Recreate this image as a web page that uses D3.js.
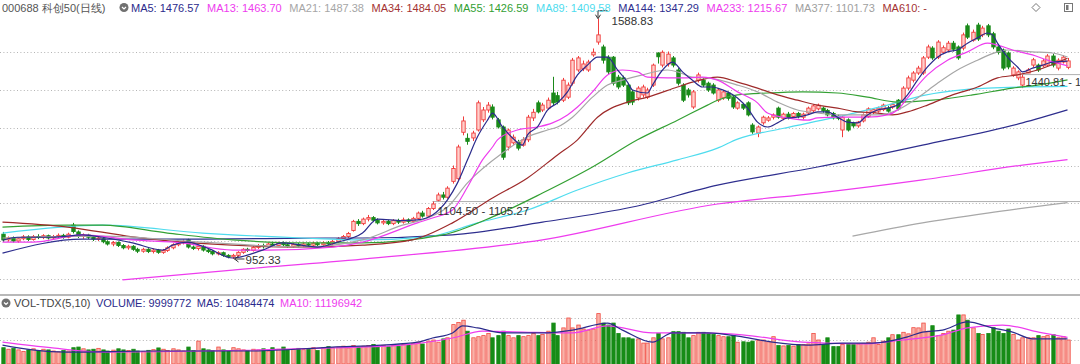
<!DOCTYPE html>
<html>
<head>
<meta charset="utf-8">
<script src="https://cdn.jsdelivr.net/npm/d3@7"></script>
<style>
body{margin:0;background:#fff;}
svg{display:block;font-family:"Liberation Sans",Arial,sans-serif;}
</style>
</head>
<body>
<svg id="chart" width="1080" height="364"></svg>
<script>
// daily candles, oldest first
var opens = [1018,1003,1008,1000,1006,1011,1004,1012,1009,1014,
1008,1012,1015,1010,1042,1024,1012,1016,1010,1005,
1006,998,992,996,988,982,986,978,973,978,
972,976,970,975,982,990,995,1003,984,980,
986,976,972,966,969,962,958,962,970,978,
975,983,988,985,992,988,994,990,986,991,
987,992,989,994,990,995,992,999,1006,1012,
1028,1052,1046,1058,1062,1055,1048,1052,1046,1054,
1050,1056,1052,1060,1074,1066,1086,1108,1122,1116,
1158,1165,1288,1272,1273,1294,1321,1347,1355,1321,
1302,1249,1260,1262,1254,1268,1326,1366,1347,1352,
1392,1385,1373,1381,1418,1453,1456,1453,1493,1527,
1514,1487,1487,1434,1432,1413,1395,1379,1387,1381,
1413,1498,1466,1469,1485,1453,1413,1400,1355,1426,
1426,1418,1413,1373,1379,1392,1381,1352,1362,1366,
1307,1286,1313,1320,1328,1352,1325,1336,1330,1338,
1328,1339,1345,1350,1352,1346,1338,1331,1294,1321,
1312,1305,1318,1330,1340,1344,1348,1352,1355,1373,
1368,1405,1426,1445,1445,1487,1511,1487,1500,1506,
1524,1514,1511,1570,1532,1572,1546,1570,1549,1514,
1506,1498,1440,1432,1413,1445,1466,1466,1464,1466,
1490,1458,1474,1460]
var closes = [1003,1008,1000,1006,1011,1004,1012,1009,1014,1008,
1012,1015,1010,1018,1025,1012,1016,1010,1005,1008,
998,992,996,988,982,986,978,973,978,972,
976,970,975,982,990,995,999,984,980,986,
976,972,966,969,962,958,962,970,978,975,
983,988,985,992,988,994,990,986,991,987,
992,989,994,990,995,992,999,1006,1012,1020,
1052,1046,1058,1062,1055,1048,1052,1046,1054,1050,
1056,1052,1060,1074,1066,1086,1098,1122,1116,1140,
1192,1249,1318,1264,1286,1366,1347,1360,1328,1302,
1222,1294,1275,1246,1268,1328,1341,1342,1360,1373,
1366,1368,1426,1413,1479,1485,1469,1474,1500,1546,
1479,1448,1418,1408,1413,1366,1368,1405,1408,1400,
1466,1488,1500,1495,1466,1418,1373,1387,1395,1440,
1413,1400,1392,1400,1395,1378,1355,1366,1352,1334,
1289,1302,1328,1326,1334,1328,1336,1328,1338,1330,
1336,1352,1358,1360,1345,1334,1326,1325,1328,1294,
1305,1315,1334,1350,1348,1352,1360,1344,1362,1350,
1405,1432,1445,1458,1485,1514,1485,1527,1512,1524,
1508,1485,1546,1540,1553,1535,1564,1546,1514,1500,
1458,1461,1458,1448,1434,1453,1480,1453,1477,1490,
1466,1479,1487,1477]
var highs = [1024,1012,1012,1010,1016,1015,1016,1018,1018,1017,
1016,1020,1019,1022,1048,1028,1020,1019,1014,1013,
1010,1002,1000,999,992,990,989,982,982,981,
980,979,979,986,994,999,1004,1006,988,990,
989,980,975,973,972,965,966,973,981,982,
986,992,993,996,996,998,999,994,995,995,
996,996,998,998,999,1000,1003,1010,1016,1024,
1056,1058,1062,1069,1066,1060,1057,1056,1058,1059,
1062,1060,1064,1078,1080,1090,1104.5,1128,1130,1145,
1200,1255,1330,1285,1292,1372,1355,1368,1362,1326,
1306,1298,1282,1268,1275,1334,1350,1372,1366,1380,
1435,1395,1432,1420,1485,1490,1478,1480,1510,1588.83,
1520,1492,1490,1440,1438,1418,1400,1410,1414,1406,
1470,1500,1505,1502,1490,1458,1418,1405,1400,1446,
1432,1422,1418,1405,1400,1396,1385,1370,1366,1370,
1312,1306,1332,1331,1338,1356,1340,1342,1342,1342,
1340,1356,1362,1364,1356,1350,1342,1335,1332,1325,
1316,1318,1338,1354,1352,1356,1364,1358,1366,1376,
1410,1438,1450,1464,1490,1520,1516,1532,1518,1530,
1530,1518,1552,1576,1560,1578,1570,1575,1554,1518,
1510,1502,1463,1452,1440.81,1458,1485,1470,1482,1495,
1496,1484,1492,1485]
var lows = [998,998,996,995,1002,1000,1001,1005,1005,1004,
1004,1008,1006,1007,1020,1008,1006,1005,1000,1000,
994,988,986,984,978,977,974,968,969,968,
967,966,966,971,978,986,991,980,976,975,
972,968,962,962,958,954,952.33,958,966,971,
972,979,980,981,984,984,986,982,982,983,
983,985,985,986,986,988,988,995,1002,1008,
1025,1040,1042,1052,1050,1044,1043,1042,1042,1045,
1046,1047,1048,1056,1062,1062,1082,1105.27,1110,1112,
1152,1160,1280,1255,1265,1290,1315,1340,1322,1298,
1215,1240,1255,1240,1250,1262,1318,1338,1342,1348,
1360,1362,1368,1376,1412,1448,1450,1448,1488,1520,
1470,1442,1412,1402,1408,1360,1360,1372,1380,1376,
1408,1470,1460,1462,1460,1412,1368,1380,1350,1420,
1408,1395,1388,1368,1374,1372,1350,1348,1347,1330,
1284,1275,1308,1316,1322,1324,1320,1322,1326,1325,
1322,1335,1340,1346,1340,1330,1322,1320,1275,1290,
1300,1300,1314,1326,1336,1340,1344,1340,1350,1346,
1364,1400,1420,1440,1440,1482,1480,1482,1495,1500,
1502,1480,1505,1535,1528,1530,1540,1540,1508,1494,
1452,1455,1435,1426,1405,1444.6,1460,1448,1460,1462,
1460,1452,1470,1455]
// volume, millions of shares
var volumes = [6.5,5.8,6.2,5.5,4.8,5.5,6,5.2,5.8,5.5,
5,4.6,5.2,5,6.5,6.8,6,5.5,5.8,6.2,
5.5,5,5.4,6,5.5,5.2,5.8,5,4.8,5.3,
5.6,6.4,5.8,5.2,6,5.5,5,6.8,5.2,9.5,
6,5.5,5.2,6.8,5.5,5,6.5,6,5.5,5.2,
5.8,5.5,6,5,6.5,5.8,6.8,5.6,5.8,6.2,
5.6,6,6.5,5.2,6.4,7,6.5,6.8,7.2,6.4,
7.5,6.8,7.2,7.5,8,6.8,7.6,7,7.5,7.2,
8,7.8,8.5,9,8.2,9.5,10,9,10.5,11,
17,18,19,14,11,11.5,12,13,11,12,
14,12,11,12,11.5,12,13,12,12.5,14,
17.7,12,15.5,20,15.5,16.8,15,14.5,15,22,
17.7,16.8,17.7,13,11,11,10.5,10.5,8.6,8.6,
11,13,10.5,11,13.8,13.8,13.5,11,12,13.5,
13.5,13,12.5,12,11.5,11.5,12,9,9.2,9,
9.5,9.8,10,9.2,11.5,7.5,7.3,7.5,7.2,8,
8,8.2,13,10,8,11,7,7,8,8,
8,8.2,8.5,9,11,8,9.5,11,12.4,12.4,
13.5,12.8,15.6,15.5,17.7,14,16.5,12,13,14,
14.5,21.4,21.4,19,15.5,13,12.5,13,15.6,14,
13,15,12.5,10,11,11,11,12,11.5,12,
12.4,11,11.5,10.0]

// moving average lines: [day, value]
var ma5 = [[0,1002],[3,1010],[10,1010],[16,1016],[20,1010],[26,995],[32,976],[34,989],[37,997],[41,981],[46,955],[52,976],[56,995],[63,984],[67,997],[72,1021],[75,1058],[80,1054],[83,1056],[86,1069],[89,1109],[91,1154],[93,1215],[95,1276],[97,1320],[98,1339],[100,1302],[102,1273],[104,1254],[105,1281],[107,1302],[109,1347],[111,1366],[113,1395],[115,1440],[117,1466],[119,1487],[121,1487],[123,1453],[125,1421],[126,1400],[129,1392],[130,1413],[132,1453],[134,1474],[136,1448],[138,1426],[140,1408],[142,1408],[143,1405],[145,1395],[147,1379],[149,1352],[151,1315],[153,1302],[155,1313],[157,1326],[159,1328],[161,1334],[163,1342],[165,1342],[167,1328],[169,1315],[171,1313],[173,1334],[175,1347],[177,1352],[179,1360],[181,1387],[183,1426],[185,1461],[187,1487],[189,1501],[191,1506],[193,1524],[195,1538],[197,1551],[198,1546],[199,1524],[201,1487],[203,1461],[204,1448],[206,1458],[208,1466],[210,1474],[213,1476.57]]
var ma13 = [[0,997],[6,997],[16,1016],[26,1003],[36,995],[46,976],[53,976],[66,984],[72,997],[83,1048],[86,1061],[90,1082],[93,1143],[96,1215],[98,1249],[99,1268],[103,1294],[107,1302],[110,1313],[113,1334],[115,1355],[118,1395],[121,1440],[124,1453],[127,1448],[129,1434],[133,1432],[136,1432],[140,1434],[143,1426],[147,1395],[151,1366],[153,1339],[157,1326],[161,1320],[163,1326],[167,1328],[170,1328],[173,1328],[177,1334],[179,1347],[181,1379],[185,1440],[189,1479],[193,1501],[197,1524],[199,1519],[202,1506],[206,1493],[209,1479],[213,1463.70]]
var ma21 = [[0,1008],[20,1013],[40,997],[60,984],[72,1003],[80,1042],[85,1061],[89,1090],[93,1154],[100,1233],[105,1276],[109,1294],[111,1302],[114,1328],[118,1381],[121,1413],[124,1426],[128,1440],[133,1453],[135,1448],[138,1434],[141,1432],[147,1413],[151,1395],[155,1368],[159,1347],[163,1339],[167,1334],[171,1334],[175,1334],[179,1347],[183,1379],[187,1418],[191,1453],[195,1479],[199,1501],[201,1506],[206,1501],[210,1498],[213,1487.38]]
var ma34 = [[0,1050],[13,1037],[26,1011],[36,997],[46,989],[60,984],[72,989],[82,1003],[90,1048],[98,1114],[105,1167],[111,1228],[115,1268],[119,1328],[125,1368],[129,1381],[135,1408],[138,1421],[143,1434],[147,1421],[151,1405],[155,1387],[159,1373],[163,1360],[167,1352],[171,1342],[175,1339],[178,1334],[181,1342],[185,1360],[190,1387],[195,1408],[199,1432],[203,1440],[207,1453],[213,1484.05]]
var ma55 = [[0,1037],[13,1042],[20,1042],[33,1021],[46,1003],[60,995],[72,995],[88,1016],[98,1064],[108,1127],[118,1196],[127,1268],[135,1320],[141,1360],[143,1373],[147,1387],[153,1392],[160,1395],[167,1392],[173,1381],[179,1368],[186,1373],[194,1387],[202,1405],[207,1413],[213,1426.59]]
var ma89 = [[0,1021],[20,1042],[40,1021],[60,1008],[72,1003],[85,1011],[95,1048],[105,1082],[115,1135],[125,1180],[135,1215],[143,1246],[147,1270],[156,1298],[166,1326],[177,1360],[184,1385],[197,1405],[213,1409.58]]
var ma144 = [[0,968],[16,1005],[40,1005],[65,1008],[72,1008],[90,1016],[108,1050],[126,1090],[143,1148],[163,1196],[184,1254],[204,1313],[213,1347.29]]
var ma233 = [[24,897],[46,923],[72,952],[108,1003],[143,1098],[163,1127],[184,1162],[204,1201],[213,1215.67]]
var ma377 = [[170,1013],[184,1048],[197,1074],[213,1101.73]]
var volMa5 = [[0,7.7],[6,5.5],[13,4.5],[30,5],[50,5],[66,6.8],[76,7.7],[83,9],[86,10.9],[90,13.2],[92,16.4],[95,15.5],[100,13.2],[108,13.2],[114,14.5],[121,17.7],[124,14.5],[130,9],[134,13.2],[141,13.2],[148,11.4],[154,9],[161,7.7],[168,8.6],[174,8.6],[181,11.4],[184,13.6],[188,14.5],[193,18.2],[198,15.5],[202,13.6],[206,10.5],[213,10.48]]
var volMa10 = [[0,9],[10,6.4],[20,4.5],[40,5],[66,6.4],[80,7.7],[90,10.9],[96,14],[104,13.6],[114,13.2],[121,16.4],[130,13.2],[140,13.2],[148,12.3],[160,9],[172,8.2],[180,10],[188,12.3],[193,15.5],[200,16.8],[208,13.2],[213,11.2]]

var priceTicks = [900,1000,1100,1200,1300,1400,1500]
var volTicks = [10,20]

var header = [
  {t:"MA5: 1476.57", c:"#2b2b8c"},
  {t:"MA13: 1463.70", c:"#ee3cee"},
  {t:"MA21: 1487.38", c:"#a6a6a6"},
  {t:"MA34: 1484.05", c:"#a33232"},
  {t:"MA55: 1426.59", c:"#33a033"},
  {t:"MA89: 1409.58", c:"#4fdcee"},
  {t:"MA144: 1347.29", c:"#2e2e8e"},
  {t:"MA233: 1215.67", c:"#ee3cee"},
  {t:"MA377: 1101.73", c:"#a0a0a0"},
  {t:"MA610: -", c:"#a33232"}
]
var volHeader = [
  {t:"VOL-TDX(5,10)", c:"#444"},
  {t:"VOLUME: 9999772", c:"#2b2b8c"},
  {t:"MA5: 10484474", c:"#2b2b8c"},
  {t:"MA10: 11196942", c:"#ee3cee"}
]

var W = 1080, H = 364
var N = closes.length
var svg = d3.select("#chart")

var x = d3.scaleLinear().domain([0, N-1]).range([2.5, 1067.5])
var y = d3.scaleLinear().domain([900, 1500]).range([278.75, 52.25])
var yv = d3.scaleLinear().domain([0, 20]).range([362, 318])

// dotted grid
svg.append("g").selectAll("line").data(priceTicks).enter().append("line")
  .attr("x1", 0).attr("x2", W)
  .attr("y1", d => Math.round(y(d)) + 0.5).attr("y2", d => Math.round(y(d)) + 0.5)
  .style("stroke", "#b4b4b4").style("stroke-dasharray", "1,2.4")
svg.append("g").selectAll("line").data(volTicks).enter().append("line")
  .attr("x1", 0).attr("x2", W)
  .attr("y1", d => Math.round(yv(d)) + 0.5).attr("y2", d => Math.round(yv(d)) + 0.5)
  .style("stroke", "#b4b4b4").style("stroke-dasharray", "1,2.4")

// panel separator
svg.append("line").attr("x1", 0).attr("x2", W).attr("y1", 295).attr("y2", 295)
  .style("stroke", "#b8b8b8").style("stroke-width", 2)

// gap lines
svg.append("line").attr("x1", x(86)).attr("x2", W).attr("y1", y(1104.5)).attr("y2", y(1104.5))
  .style("stroke", "#b0b0b0")
svg.append("line").attr("x1", x(204)).attr("x2", W).attr("y1", y(1440.81)).attr("y2", y(1440.81))
  .style("stroke", "#b0b0b0")

var days = d3.range(N)
var up = i => closes[i] >= opens[i]
var bw = 3.4

// candles
var cg = svg.append("g")
cg.selectAll("line").data(days).enter().append("line")
  .attr("x1", i => Math.round(x(i)) + 0.5).attr("x2", i => Math.round(x(i)) + 0.5)
  .attr("y1", i => y(highs[i])).attr("y2", i => y(lows[i]))
  .style("stroke", i => up(i) ? "#f03c3c" : "#1a8a1a")
cg.selectAll("rect").data(days).enter().append("rect")
  .attr("x", i => Math.round(x(i)) + 0.5 - bw/2)
  .attr("y", i => y(Math.max(opens[i], closes[i])))
  .attr("width", bw)
  .attr("height", i => Math.max(1, Math.abs(y(opens[i]) - y(closes[i]))))
  .style("fill", i => up(i) ? "#ffd0cc" : "#1a8a1a")
  .style("stroke", i => up(i) ? "#f03c3c" : "#1a8a1a")
  .style("stroke-width", 0.9)

// volume bars
svg.append("g").selectAll("rect").data(days).enter().append("rect")
  .attr("x", i => Math.round(x(i)) + 0.5 - bw/2)
  .attr("y", i => yv(volumes[i]))
  .attr("width", bw)
  .attr("height", i => yv(0) - yv(volumes[i]) + 2)
  .style("fill", i => up(i) ? "#f9b2a9" : "#168c16")
  .style("stroke", i => up(i) ? "#f04a40" : "#168c16")
  .style("stroke-width", 0.8)

// moving averages
var line = d3.line().x(d => x(d[0])).y(d => y(d[1])).curve(d3.curveMonotoneX)
var vline = d3.line().x(d => x(d[0])).y(d => yv(d[1])).curve(d3.curveMonotoneX)
var maSeries = [
  [ma377, "#a8a8a8"], [ma233, "#ee3cee"], [ma144, "#2e2e8e"], [ma89, "#4fdcee"],
  [ma55, "#33a033"], [ma34, "#9e2a2a"], [ma21, "#a6a6a6"], [ma13, "#ee3cee"], [ma5, "#2b2b8c"]
]
maSeries.forEach(function(s) {
  svg.append("path").attr("d", line(s[0]))
    .style("fill", "none").style("stroke", s[1]).style("stroke-width", 1.2)
})
svg.append("path").attr("d", vline(volMa10)).style("fill", "none").style("stroke", "#ee3cee").style("stroke-width", 1.2)
svg.append("path").attr("d", vline(volMa5)).style("fill", "none").style("stroke", "#2b2b8c").style("stroke-width", 1.2)

// annotations
function note(txt, tx, ty, fs) {
  svg.append("text").attr("x", tx).attr("y", ty).text(txt)
    .style("font-size", fs || "11.5px").style("fill", "#333")
}
var hx = x(119), hy = y(1588.83)
svg.append("path").attr("d", "M" + (hx + 10) + "," + (hy - 8) + "H" + (hx + 0.5) + "V" + (hy - 1))
  .style("fill", "none").style("stroke", "#333")
svg.append("path").attr("d", "M" + (hx - 2) + "," + (hy - 4) + "L" + (hx + 0.5) + "," + (hy) + "L" + (hx + 3) + "," + (hy - 4))
  .style("fill", "none").style("stroke", "#333")
note("1588.83", hx + 14, hy + 6)
var lx = x(46), ly = y(952.33)
svg.append("path").attr("d", "M" + (lx + 12) + "," + ly + "H" + (lx + 2) + "M" + (lx + 6) + "," + (ly - 3) + "L" + (lx + 2) + "," + ly + "L" + (lx + 6) + "," + (ly + 3))
  .style("fill", "none").style("stroke", "#333")
note("952.33", lx + 13, ly + 5.5)
note("1104.50 - 1105.27", x(87), y(1104.5) + 13)
note("1440.81 - 1444.60", x(204) + 3, y(1440.81) + 11, "11px")

// headers, laid out left to right
function flow(items, startX, baseY, gap) {
  var cx = startX
  items.forEach(function(d) {
    var t = svg.append("text").attr("x", cx).attr("y", baseY).text(d.t)
      .style("font-size", "11px").style("fill", d.c)
    cx += t.node().getComputedTextLength() + gap
  })
}
svg.append("text").attr("x", 2).attr("y", 11.5).text("000688 科创50(日线)")
  .style("font-size", "11px").style("fill", "#555")
function badge(cx, cy) {
  svg.append("circle").attr("cx", cx).attr("cy", cy).attr("r", 4.5).style("fill", "#707070")
  svg.append("path").attr("d", "M" + (cx - 2) + "," + (cy - 0.5) + "L" + cx + "," + (cy + 1.5) + "L" + (cx + 2) + "," + (cy - 0.5))
    .style("fill", "none").style("stroke", "#fff").style("stroke-width", 1.2)
}
badge(124, 7.5)
flow(header, 131, 11.5, 7.6)
badge(6, 303)
flow(volHeader, 14, 307, 5.5)

// top-right tool icons
svg.append("path").attr("d", "M1036,3.5L1040,7.5L1036,11.5L1032,7.5Z")
  .style("fill", "none").style("stroke", "#777")
svg.append("rect").attr("x", 1064.5).attr("y", 3.5).attr("width", 8).attr("height", 8)
  .style("fill", "none").style("stroke", "#777")
svg.append("rect").attr("x", 1066).attr("y", 5).attr("width", 2.5).attr("height", 5).style("fill", "#777")
</script>
</body>
</html>
